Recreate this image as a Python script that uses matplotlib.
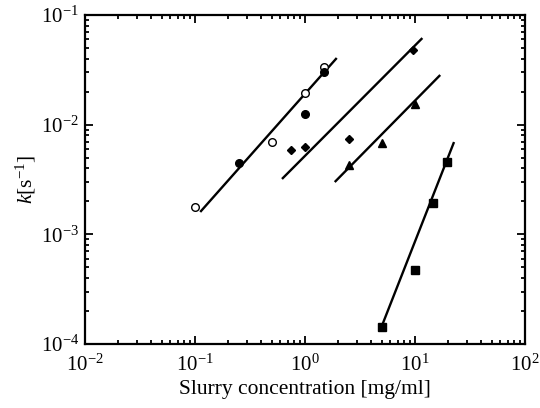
import matplotlib
matplotlib.use('Agg')
import matplotlib.pyplot as plt
from matplotlib.ticker import LogLocator, NullFormatter

plt.rcParams['font.family'] = ['Liberation Serif', 'DejaVu Serif']
plt.rcParams['mathtext.fontset'] = 'custom'
plt.rcParams['mathtext.rm'] = 'Liberation Serif'
plt.rcParams['mathtext.it'] = 'Liberation Serif:italic'

# data
open_circle_x = [0.1, 0.5, 1.0, 1.5]
open_circle_y = [1.78e-3, 6.95e-3, 0.0195, 0.0336]
filled_circle_x = [0.25, 1.0, 1.5]
filled_circle_y = [4.48e-3, 0.0125, 0.030]
diamond_x = [0.75, 1.0, 2.5, 9.7]
diamond_y = [5.9e-3, 6.3e-3, 7.4e-3, 0.048]
triangle_x = [2.5, 5.0, 10.0]
triangle_y = [4.3e-3, 6.8e-3, 0.0155]
square_x = [5.0, 10.0, 14.7, 19.7]
square_y = [1.43e-4, 4.73e-4, 1.93e-3, 4.57e-3]

# fitted lines (start/end points)
fit_x = [[0.112, 1.95], [0.62, 11.7], [1.87, 17.0], [5.0, 22.7]]
fit_y = [[1.6e-3, 0.0406], [3.2e-3, 0.0617], [3.0e-3, 0.0284], [1.45e-4, 6.95e-3]]

fig = plt.figure(figsize=(5.4, 4.08), dpi=100)
ax = fig.add_axes([0.157, 0.157, 0.815, 0.806])

for fx, fy in zip(fit_x, fit_y):
    ax.plot(fx, fy, color='black', lw=1.7, solid_capstyle='butt')

ax.plot(open_circle_x, open_circle_y, 'o', mfc='white', mec='black', ms=5.5, mew=1)
ax.plot(filled_circle_x, filled_circle_y, 'o', color='black', ms=5.5)
ax.plot(diamond_x, diamond_y, 'D', color='black', ms=4.5)
ax.plot(triangle_x, triangle_y, '^', color='black', ms=6)
ax.plot(square_x, square_y, 's', color='black', ms=6)

ax.set_xscale('log')
ax.set_yscale('log')
ax.set_xlim(1e-2, 1e2)
ax.set_ylim(1e-4, 1e-1)

ax.xaxis.set_major_locator(LogLocator(base=10, numticks=10))
ax.yaxis.set_major_locator(LogLocator(base=10, numticks=10))
ax.xaxis.set_minor_locator(LogLocator(base=10, subs=range(2, 10), numticks=20))
ax.yaxis.set_minor_locator(LogLocator(base=10, subs=range(2, 10), numticks=20))
ax.xaxis.set_minor_formatter(NullFormatter())
ax.yaxis.set_minor_formatter(NullFormatter())

ax.tick_params(which='both', direction='in', top=True, right=True, labelsize=15, width=1.3)
ax.tick_params(which='major', length=6)
ax.tick_params(which='minor', length=3)
ax.tick_params(axis='x', which='major', pad=8)
ax.tick_params(axis='y', which='major', pad=4)
for sp in ax.spines.values():
    sp.set_linewidth(1.6)

ax.set_xlabel('Slurry concentration [mg/ml]', fontsize=15.5, labelpad=3)
ax.set_ylabel(r'$k$[s$^{\mathrm{-1}}$]', fontsize=15.5, labelpad=2)

fig.savefig('out.png', dpi=100)
